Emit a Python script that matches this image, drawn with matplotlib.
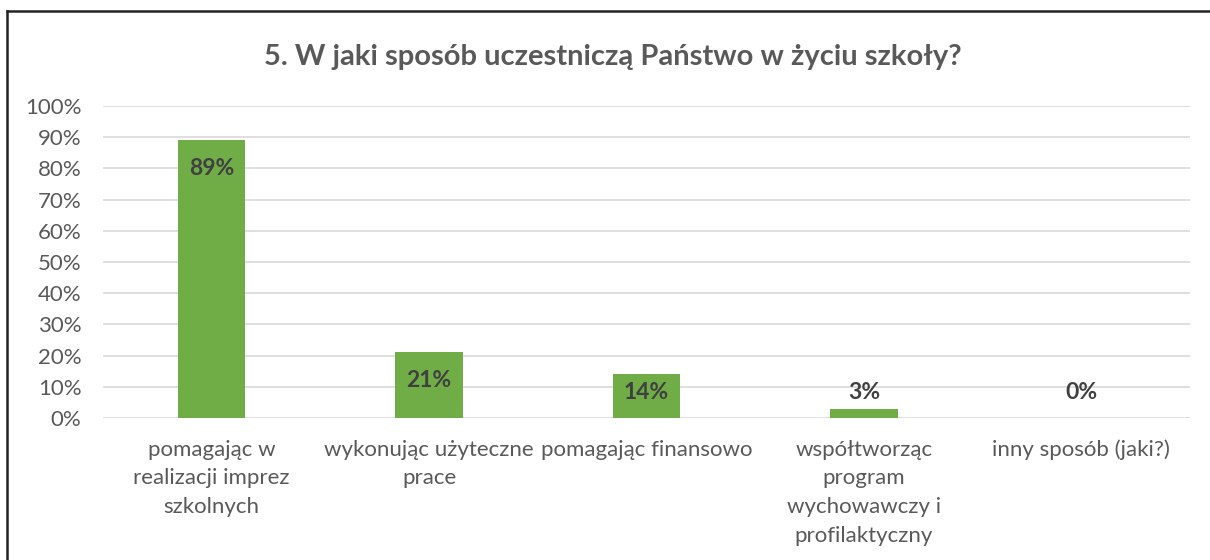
import matplotlib
matplotlib.use("Agg")
import matplotlib.pyplot as plt
from matplotlib.lines import Line2D

categories = [
    "pomagając w\nrealizacji imprez\nszkolnych",
    "wykonując użyteczne\nprace",
    "pomagając finansowo",
    "współtworząc\nprogram\nwychowawczy i\nprofilaktyczny",
    "inny sposób (jaki?)",
]
values = [89, 21, 14, 3, 0]
yticks = [0, 10, 20, 30, 40, 50, 60, 70, 80, 90, 100]
title = "5. W jaki sposób uczestniczą Państwo w życiu szkoły?"

plt.rcParams['font.family'] = ['Lato', 'DejaVu Sans']

W, H = 1210, 560
fig = plt.figure(figsize=(W / 100, H / 100), dpi=100)
fig.patch.set_facecolor('white')

left, right = 103 / W, 1190 / W
bottom, top = 1 - 418 / H, 1 - 106 / H
ax = fig.add_axes([left, bottom, right - left, top - bottom])

x = list(range(len(categories)))
ax.bar(x, values, width=0.31, color='#70ad47', zorder=3)
ax.set_xlim(-0.5, len(categories) - 0.5)
ax.set_ylim(0, 100)
ax.set_yticks(yticks)
ax.set_yticklabels([f"{t}%" for t in yticks])
ax.set_xticks(x)
ax.set_xticklabels(categories, linespacing=1.56)
ax.tick_params(axis='both', length=0, colors='#595959', labelsize=16)
ax.tick_params(axis='x', pad=15.5)
ax.tick_params(axis='y', pad=15.5)
for lab in ax.get_xticklabels():
    lab.set_verticalalignment('top')
ax.grid(axis='y', color='#d9d9d9', linewidth=1.2, zorder=0)
for s in ax.spines.values():
    s.set_visible(False)

for xi, v in zip(x, values):
    ypos = max(v - 9, 8.3)
    ax.text(xi, ypos, f"{v}%", ha='center', va='center', fontsize=16.5,
            fontweight='bold', color='#404040', zorder=4)

fig.text(613 / W, 1 - 57 / H, title, ha='center', va='center', fontsize=21,
         fontweight='bold', color='#595959')

# chart border (top and left visible)
fig.add_artist(Line2D([7 / W, 1.0], [1 - 11 / H, 1 - 11 / H], color='#222222', linewidth=1.8,
                      transform=fig.transFigure))
fig.add_artist(Line2D([7 / W, 7 / W], [0.0, 1 - 11 / H], color='#222222', linewidth=1.8,
                      transform=fig.transFigure))

fig.savefig("out.png", dpi=100, facecolor='white')
